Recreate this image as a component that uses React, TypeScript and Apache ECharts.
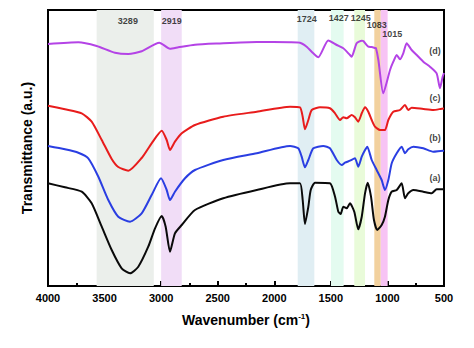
import React, { useEffect, useRef } from "react";
import * as echarts from "echarts";

// Wavenumber (cm-1) / transmittance (a.u.) pairs for each spectrum
const curveA: [number, number][] = [
  [4000, 102.7], [3850, 98.7], [3702, 94.3], [3614, 82.7], [3525, 59.3], [3437, 36], [3349, 17.7],
  [3275, 12.7], [3202, 19.3], [3114, 39.3], [3054, 57.7], [2995, 70], [2960, 59.3], [2922, 34.3],
  [2878, 52.7], [2818, 61], [2701, 76], [2451, 87.7], [2155, 96], [1861, 102.7], [1773, 102.7],
  [1749, 86], [1729, 62], [1699, 79.3], [1678, 96], [1640, 103.3], [1508, 102.7], [1463, 89.3],
  [1434, 74.3], [1413, 72], [1390, 79.3], [1360, 77.7], [1331, 82.7], [1293, 74.3], [1258, 56.7],
  [1227, 69.3], [1198, 92.7], [1174, 103.3], [1145, 89.3], [1119, 66], [1090, 56], [1051, 61],
  [1022, 69.3], [992, 86], [962, 94.3], [918, 96], [874, 102.7], [845, 87.7], [816, 92.7],
  [771, 96], [683, 94.3], [609, 92.7], [565, 96.7], [512, 96.7], [500, 97],
];
const curveB: [number, number][] = [
  [4000, 140], [3850, 136.7], [3732, 133.3], [3644, 127.7], [3555, 109.3], [3467, 86], [3379, 69.3],
  [3275, 64.3], [3172, 72.7], [3084, 91], [3001, 107.7], [2951, 96], [2922, 86], [2878, 94.3],
  [2789, 107.7], [2701, 116], [2451, 126], [2155, 132.7], [1861, 140], [1788, 137.7], [1758, 129.3],
  [1729, 118.7], [1699, 126], [1655, 137.7], [1567, 140], [1508, 137.7], [1448, 126], [1404, 121],
  [1375, 123.3], [1331, 125.3], [1287, 127.7], [1258, 119.3], [1227, 129.3], [1198, 136],
  [1178, 139.3], [1139, 126], [1095, 116], [1051, 106], [1022, 96], [992, 106], [962, 122.7],
  [918, 132.7], [874, 139.3], [845, 132.7], [816, 136.7], [771, 139.3], [683, 137.7], [595, 134.3],
  [512, 135.3], [500, 135],
];
const curveC: [number, number][] = [
  [4000, 180.3], [3850, 176.7], [3702, 172.7], [3614, 164.3], [3525, 146], [3437, 127], [3379, 119],
  [3290, 115.3], [3172, 128], [3084, 142.7], [2995, 155.3], [2951, 146], [2922, 136], [2878, 144.3],
  [2818, 152.7], [2701, 161], [2451, 169.3], [2155, 174.3], [1861, 179.3], [1773, 178.7],
  [1749, 169.3], [1729, 156.7], [1699, 166], [1669, 176], [1596, 178.7], [1508, 177.7], [1463, 172.7],
  [1419, 166], [1390, 168.7], [1360, 167.7], [1316, 171], [1287, 168.7], [1258, 164.3], [1227, 172.7],
  [1198, 178.7], [1169, 174.3], [1139, 166], [1110, 159.3], [1066, 156], [1022, 156], [992, 166],
  [948, 174.3], [889, 176], [845, 181], [816, 176], [786, 178.3], [683, 177], [595, 176],
  [520, 177.3], [500, 177.5],
];
const curveD: [number, number][] = [
  [4000, 242], [3732, 243.7], [3570, 240], [3408, 233.3], [3290, 232], [3172, 234.7], [3016, 243.3],
  [2922, 237.3], [2848, 238.7], [2701, 241.3], [2500, 242.5], [2155, 244], [1861, 243.7],
  [1773, 243.3], [1714, 239.3], [1655, 232.7], [1611, 228.7], [1523, 245.5], [1448, 241],
  [1390, 237.7], [1331, 231], [1316, 229.3], [1272, 242.7], [1227, 245.3], [1213, 245], [1169, 239.3],
  [1139, 239], [1110, 238], [1101, 237.7], [1080, 226], [1037, 192.7], [977, 216], [948, 224.3],
  [918, 231], [889, 226.7], [860, 232.7], [830, 242.7], [786, 236], [741, 231], [683, 224.3],
  [624, 219.3], [565, 212.7], [536, 197.7], [512, 209.3], [500, 213],
];

// Shaded bands: [from, to, colour]
const bands: [number, number, string][] = [
  [3570, 3065, "#ebefeb"],
  [3000, 2818, "#f1ddf7"],
  [1793, 1646, "#e0eef3"],
  [1499, 1387, "#e4fbf0"],
  [1293, 1198, "#e9fbd9"],
  [1116, 1059, "#f2d19e"],
  [1059, 998, "#f7c3f4"],
];

// Band annotations: [wavenumber, height, text]
const bandLabels: [number, number, string][] = [
  [3294, 265, "3289"],
  [2907, 265, "2919"],
  [1714, 266.7, "1724"],
  [1431, 267.7, "1427"],
  [1236, 267.7, "1245"],
  [1095, 260.7, "1083"],
  [957, 252.3, "1015"],
];

// Curve labels
const curveLabels: [number, number, string][] = [
  [580, 235.3, "(d)"],
  [580, 188, "(c)"],
  [580, 148, "(b)"],
  [580, 108, "(a)"],
];

const xTicks = [500, 4000];

export default function App() {
  const ref = useRef<HTMLDivElement>(null);
  useEffect(() => {
    if (!ref.current) return;
    const chart = echarts.init(ref.current, null, { renderer: "svg" });
    const font = "Liberation Sans, Arial, sans-serif";
    const line = (name: string, data: [number, number][], color: string) => ({
      name,
      type: "line",
      data,
      showSymbol: false,
      smooth: 0.2,
      z: 3,
      lineStyle: { color, width: 2 },
    });
    const textLabel = {
      show: true,
      position: "inside",
      formatter: (p: any) => p.name,
      fontSize: 9,
      fontWeight: "bold",
      fontFamily: font,
      color: "#111",
    };
    chart.setOption({
      animation: false,
      backgroundColor: "#ffffff",
      grid: {
        left: 48,
        right: 30,
        top: 10,
        bottom: 62,
        show: true,
        borderColor: "#000",
        borderWidth: 2,
        backgroundColor: "transparent",
      },
      xAxis: {
        type: "value",
        min: xTicks[0],
        max: xTicks[1],
        interval: 500,
        inverse: true,
        name: "{t|Wavenumber (cm}{s|-1}{t|)}",
        nameLocation: "middle",
        nameGap: 26,
        nameTextStyle: {
          rich: {
            t: { fontSize: 14, fontWeight: "bold", fontFamily: font, color: "#000" },
            s: { fontSize: 8, fontWeight: "bold", fontFamily: font, color: "#000", verticalAlign: "top", padding: [0, 0, 8, 0] },
          },
        },
        axisLine: { lineStyle: { color: "#000", width: 2 } },
        axisTick: { inside: true, length: 5, lineStyle: { color: "#000", width: 2 } },
        minorTick: { show: true, splitNumber: 2, length: 3, lineStyle: { color: "#000", width: 2 } },
        splitLine: { show: false },
        axisLabel: {
          color: "#000",
          fontSize: 11,
          fontWeight: "bold",
          fontFamily: font,
          margin: 6,
          formatter: (v: number) => String(v),
        },
      },
      yAxis: {
        type: "value",
        min: 0,
        max: 276,
        name: "Transmittance (a.u.)",
        nameLocation: "middle",
        nameGap: 14,
        nameTextStyle: { fontSize: 14, fontWeight: "bold", fontFamily: font, color: "#000" },
        axisLine: { show: true, lineStyle: { color: "#000", width: 2 } },
        axisTick: { show: false },
        axisLabel: { show: false },
        splitLine: { show: false },
      },
      series: [
        {
          name: "bands",
          type: "line",
          data: [],
          z: 1,
          markArea: {
            silent: true,
            data: bands.map(([a, b, c]) => [
              { xAxis: a, itemStyle: { color: c, opacity: 1 } },
              { xAxis: b },
            ]),
          },
        },
        line("(a)", curveA, "#0a0a0a"),
        line("(b)", curveB, "#2a3ee2"),
        line("(c)", curveC, "#e81c1c"),
        line("(d)", curveD, "#b443e6"),
        {
          name: "bandLabels",
          type: "scatter",
          symbolSize: 0,
          z: 4,
          data: bandLabels.map(([x, y, t]) => ({ value: [x, y], name: t })),
          label: textLabel,
        },
        {
          name: "curveLabels",
          type: "scatter",
          symbolSize: 0,
          z: 4,
          data: curveLabels.map(([x, y, t]) => ({ value: [x, y], name: t })),
          label: textLabel,
        },
      ],
    });
    return () => chart.dispose();
  }, []);
  return (
    <div
      ref={ref}
      style={{ position: "fixed", left: 0, top: 0, width: 474, height: 348 }}
    />
  );
}
